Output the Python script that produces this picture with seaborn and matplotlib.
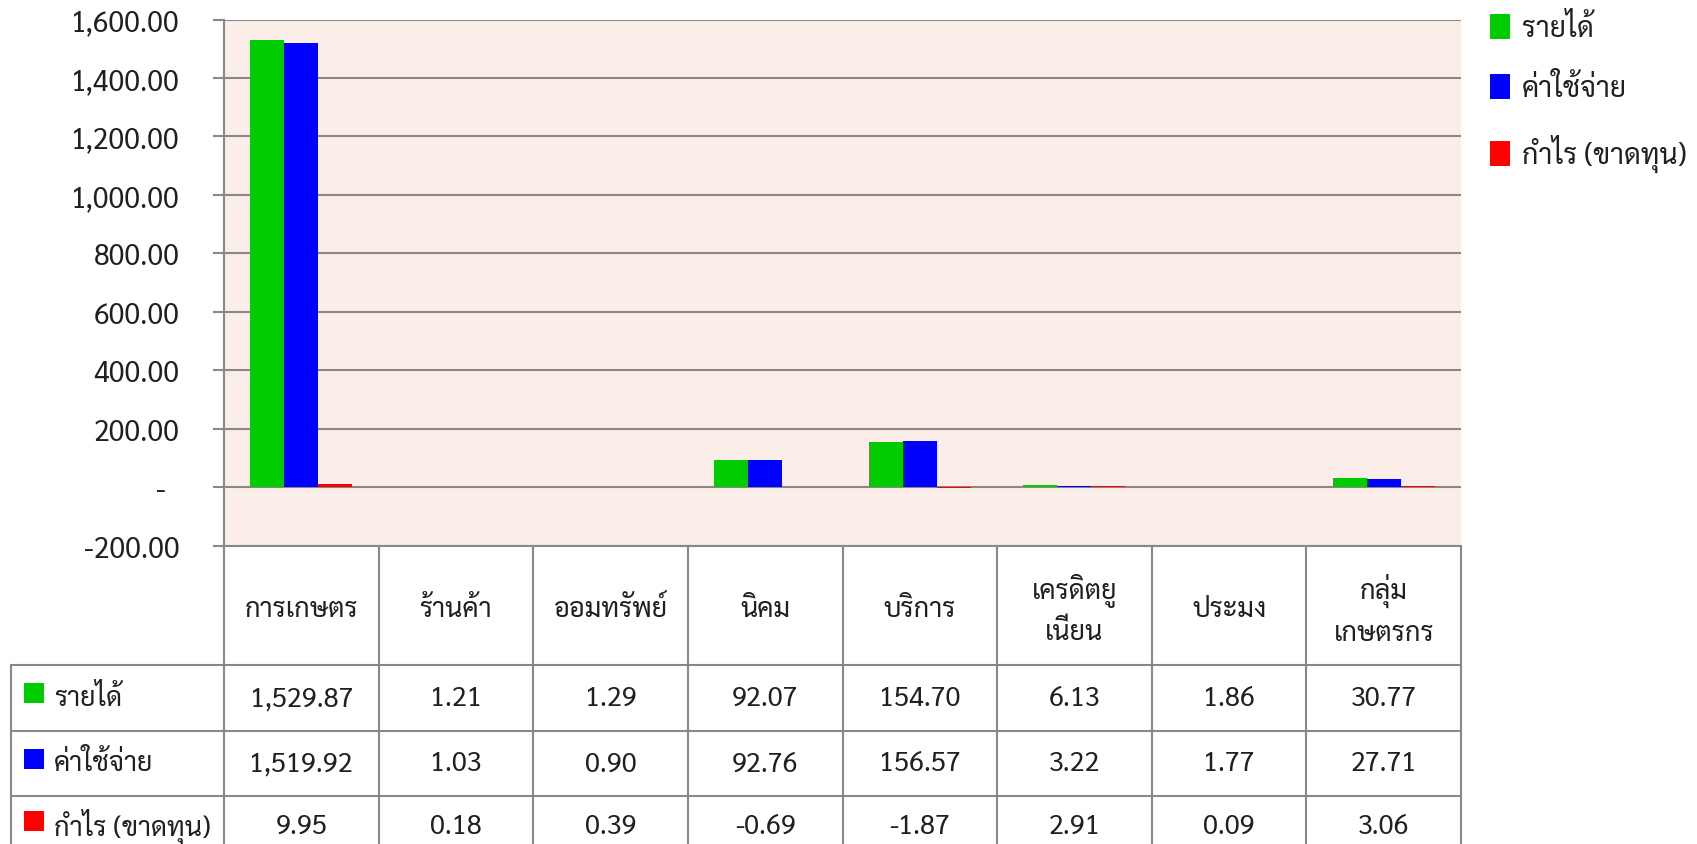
import matplotlib
matplotlib.use("Agg")
import matplotlib.pyplot as plt
import numpy as np
import pandas as pd
import seaborn as sns
from matplotlib import font_manager
from matplotlib.ft2font import FT2Font
from matplotlib.patches import Patch, Rectangle

# ---------------- data ----------------
categories = ["การเกษตร", "ร้านค้า", "ออมทรัพย์", "นิคม", "บริการ",
              "เครดิตยูเนี่ยน", "ประมง", "กลุ่มเกษตรกร"]
header_labels = ["การเกษตร", "ร้านค้า", "ออมทรัพย์", "นิคม", "บริการ",
                 "เครดิตยู\nเนี่ยน", "ประมง", "กลุ่ม\nเกษตรกร"]
series_names = ["รายได้", "ค่าใช้จ่าย", "กำไร (ขาดทุน)"]
income = [1529.87, 1.21, 1.29, 92.07, 154.70, 6.13, 1.86, 30.77]
expense = [1519.92, 1.03, 0.90, 92.76, 156.57, 3.22, 1.77, 27.71]
profit = [9.95, 0.18, 0.39, -0.69, -1.87, 2.91, 0.09, 3.06]
yticks = [-200, 0, 200, 400, 600, 800, 1000, 1200, 1400, 1600]
colors = ["#00CC00", "#0000FF", "#FF0000"]

# ---------------- fonts ----------------
def find_thai_font():
    preferred = ["TH Sarabun New", "TH SarabunPSK", "Sarabun", "Laksaman",
                 "Noto Sans Thai Looped", "Noto Sans Thai", "Garuda", "Loma",
                 "Norasi", "Waree", "Kinnari", "Tlwg Typo", "Umpush", "Sawasdee"]
    found = set()
    for f in font_manager.fontManager.ttflist:
        try:
            if 0x0E23 in FT2Font(f.fname).get_charmap():
                found.add(f.name)
        except Exception:
            pass
    for p in preferred:
        if p in found:
            return p
    return sorted(found)[0] if found else None

sns.set_theme(style="white")
thai = find_thai_font()
families = ([thai] if thai else []) + ["DejaVu Sans"]
plt.rcParams["font.family"] = families

# ---------------- layout ----------------
W, H = 1697, 845
left_px, right_px = 224, 1461
top_px, bot_px = 20.6, 546.6
grid_col = "#888888"
bg = "#FBEDE8"
text_col = "#202020"

fig = plt.figure(figsize=(W / 100, H / 100), dpi=100)
fig.patch.set_facecolor("white")

ax = fig.add_axes([left_px / W, 1 - bot_px / H,
                   (right_px - left_px) / W, (bot_px - top_px) / H])

df = pd.DataFrame({
    "category": categories * 3,
    "series": sum([[s] * len(categories) for s in series_names], []),
    "value": income + expense + profit,
})

sns.barplot(data=df, x="category", y="value", hue="series",
            hue_order=series_names, order=categories,
            palette=colors, width=0.66, saturation=1, ax=ax,
            legend=False, errorbar=None, edgecolor="none", linewidth=0)

ax.set_facecolor(bg)
ax.set_xlim(-0.5, len(categories) - 0.5)
ax.set_ylim(-200, 1600)
ax.set_yticks(yticks)
ax.set_yticklabels([f"{v:,.2f}" if v != 0 else "-  " for v in yticks])
ax.set_xticks([])
ax.set_xlabel("")
ax.set_ylabel("")
ax.set_axisbelow(True)
ax.yaxis.grid(True, color=grid_col, linewidth=1.5)
for s in ["top", "right"]:
    ax.spines[s].set_visible(False)
for s in ["left", "bottom"]:
    ax.spines[s].set_color(grid_col)
    ax.spines[s].set_linewidth(1.5)
ax.tick_params(axis="y", length=8, width=1.5, color=grid_col, direction="out",
               pad=24, labelsize=20.5, labelcolor=text_col, left=True)

# ---------------- legend ----------------
handles = [Patch(facecolor=c, edgecolor="none") for c in colors]
fig.legend(handles, series_names, loc="upper left",
           bbox_to_anchor=(1479 / W, 1 - 4 / H), frameon=False,
           fontsize=20.5, handlelength=0.7, handleheight=0.95,
           handletextpad=0.4, labelspacing=1.08, borderaxespad=0,
           labelcolor=text_col)

# ---------------- data table ----------------
tab = fig.add_axes([0, 0, 1, 1], zorder=-5)
tab.set_xlim(0, W)
tab.set_ylim(H, 0)
tab.axis("off")

ncol = len(categories)
colw = (right_px - left_px) / ncol
col_x = [left_px + i * colw for i in range(ncol + 1)]
row_y = [bot_px, 666, 732, 797, 870]
label_left = 11

lw = 1.5
for x in col_x:
    tab.plot([x, x], [row_y[0], row_y[-1]], color=grid_col, lw=lw, solid_capstyle="butt")
tab.plot([label_left, label_left], [row_y[1], row_y[-1]], color=grid_col, lw=lw)
for y in row_y[1:4]:
    tab.plot([label_left, right_px], [y, y], color=grid_col, lw=lw)

# header
for i, lab in enumerate(header_labels):
    cx = (col_x[i] + col_x[i + 1]) / 2
    tab.text(cx, (row_y[0] + row_y[1]) / 2 + 4, lab, ha="center", va="center",
             fontsize=19.5, color=text_col, linespacing=1.6)

# rows
table_values = [income, expense, profit]
for r, (name, vals, c) in enumerate(zip(series_names, table_values, colors)):
    y0, y1 = row_y[r + 1], row_y[r + 2]
    cy = (y0 + y1) / 2 if r < 2 else y0 + 30
    tab.add_patch(Rectangle((24, cy - 15), 20, 20, facecolor=c, edgecolor="none"))
    tab.text(54, cy, name, ha="left", va="center", fontsize=19.5, color=text_col)
    for i, v in enumerate(vals):
        cx = (col_x[i] + col_x[i + 1]) / 2
        tab.text(cx, cy, f"{v:,.2f}", ha="center", va="center",
                 fontsize=19.5, color=text_col)

fig.savefig("out.png", dpi=100, facecolor="white")
